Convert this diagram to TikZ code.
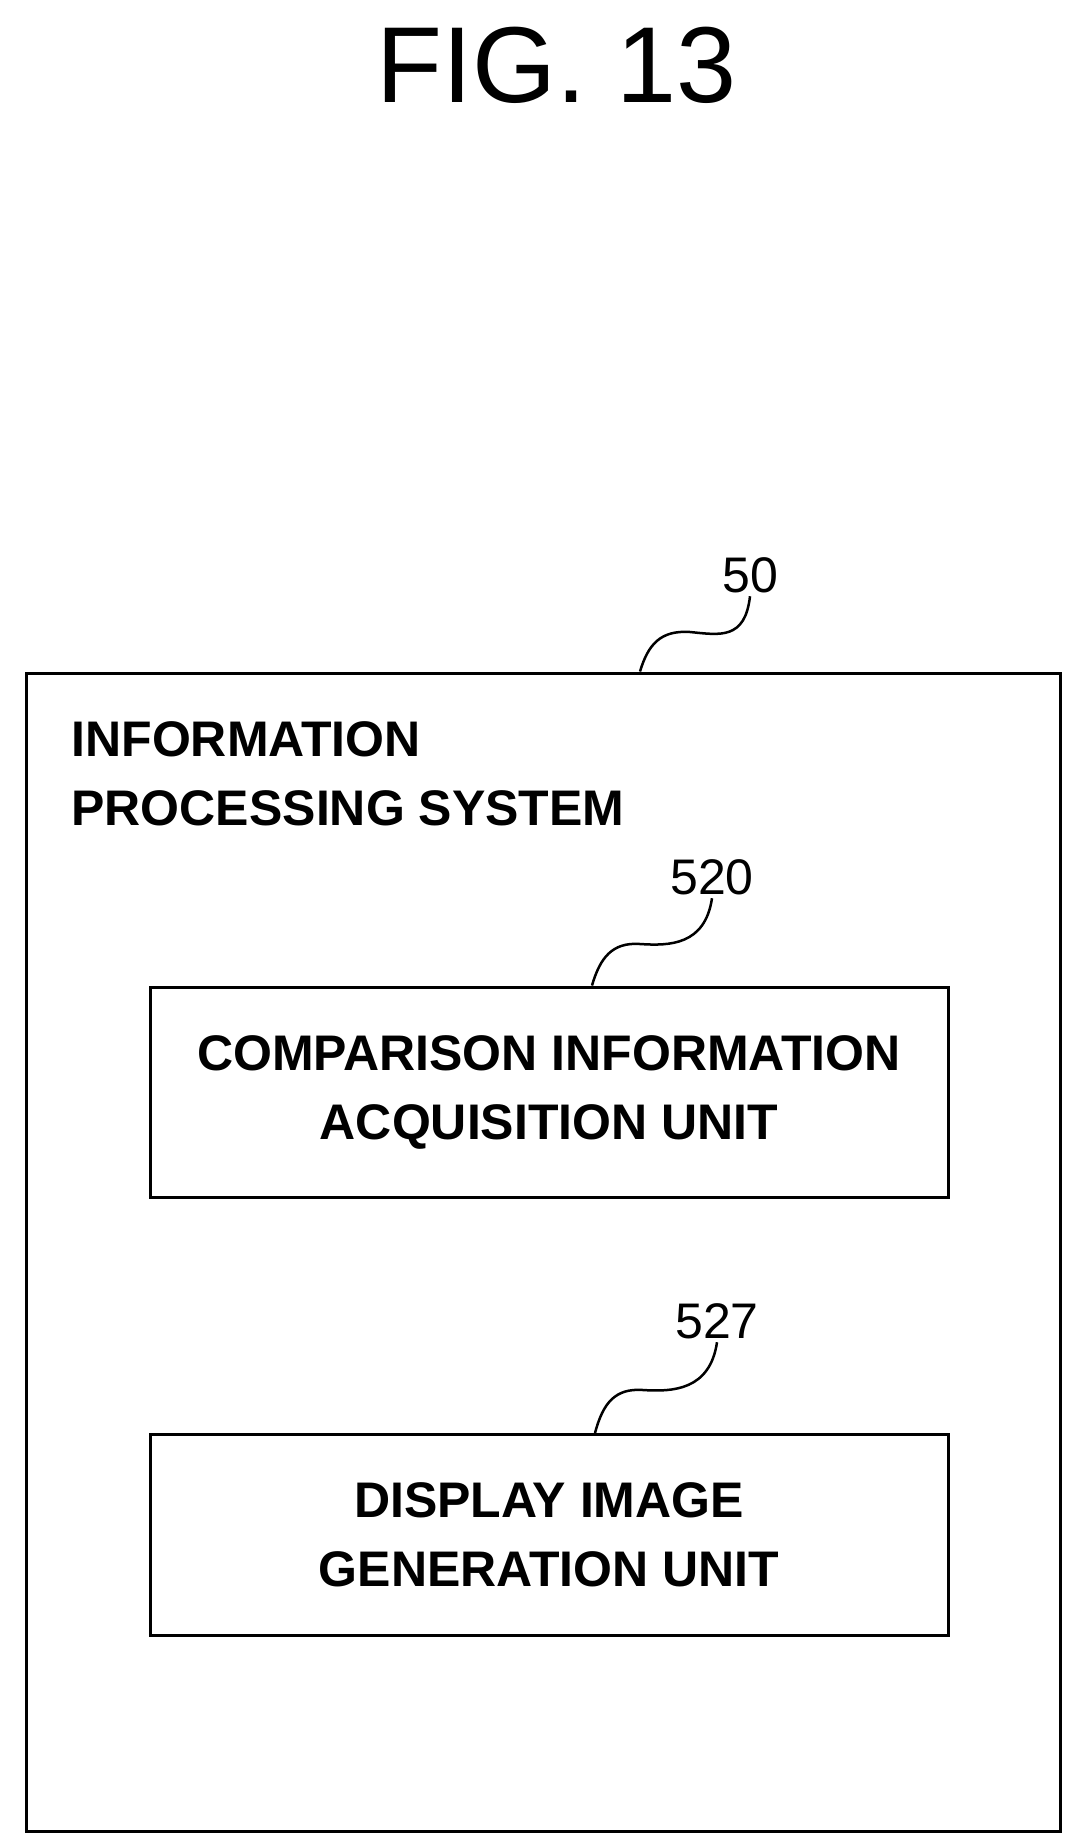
\documentclass[tikz,border=0pt]{standalone}
\usepackage{fontspec}
\setmainfont{Liberation Sans}
\begin{document}
\begin{tikzpicture}[x=1pt,y=-1pt,
 box/.style={draw,line width=3pt,inner sep=0pt},
 lbl/.style={font=\fontsize{50}{58}\selectfont\bfseries},
 num/.style={font=\fontsize{50}{58}\selectfont},
 lead/.style={line width=2.5pt}]
\useasboundingbox (0,0) rectangle (1078,1843);
\node[font=\fontsize{108}{120}\selectfont] (title) at (557,65) {FIG.\ 13};
\node[box,minimum width=1034pt,minimum height=1158pt] (sys) at (543,1252) {};
\node[lbl,anchor=north west,align=left] (systxt) at (68,718) {INFORMATION\\[11pt]PROCESSING SYSTEM};
\node[box,minimum width=798pt,minimum height=210pt,align=center,lbl] (cmp) at (549,1092) {COMPARISON INFORMATION\\[11pt]ACQUISITION UNIT};
\node[box,minimum width=798pt,minimum height=201pt,align=center,lbl] (disp) at (549,1535) {DISPLAY IMAGE\\[11pt]GENERATION UNIT};
\node[num] (n50) at (750,575) {50};
\node[num] (n520) at (712,877) {520};
\node[num] (n527) at (717,1321) {527};
\draw[lead] (sys.north -| 640,0) .. controls (648,645) and (660,630) .. (690,632) .. controls (720,635) and (745,640) .. (n50.south);
\draw[lead] (cmp.north -| 592,0) .. controls (600,958) and (612,942) .. (640,944) .. controls (670,946) and (705,945) .. (n520.south);
\draw[lead] (disp.north -| 595,0) .. controls (603,1403) and (615,1388) .. (643,1390) .. controls (673,1392) and (710,1390) .. (n527.south);
\end{tikzpicture}
\end{document}
